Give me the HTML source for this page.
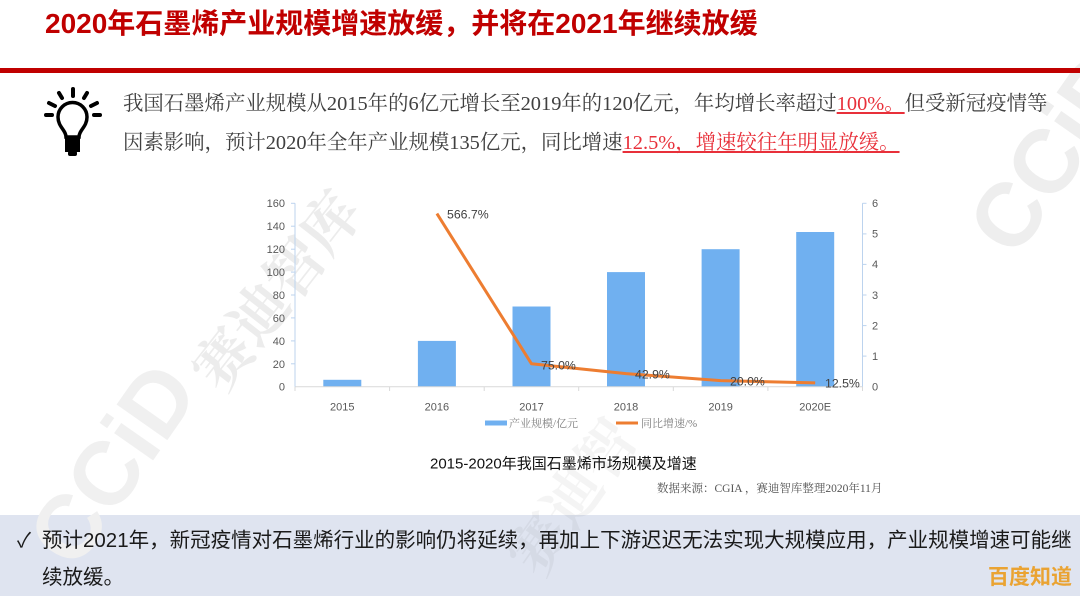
<!DOCTYPE html>
<html><head><meta charset="utf-8">
<style>
html,body{margin:0;padding:0;width:1080px;height:596px;overflow:hidden;background:#fff;}
#wrap{position:relative;width:1080px;height:596px;overflow:hidden;background:#fff;font-family:"Liberation Sans","Noto Sans CJK SC",sans-serif;}
.abs{position:absolute;white-space:nowrap;}
</style></head><body>
<div id="wrap">

<!-- bottom box background -->
<div class="abs" style="left:0;top:515px;width:1080px;height:81px;background:#dfe4f0;"></div>

<!-- watermarks -->
<svg class="abs" style="left:0;top:0" width="1080" height="596" viewBox="0 0 1080 596" font-weight="bold">
  <text x="0" y="0" font-size="58" fill="#ececec" font-family="'Liberation Serif','Noto Serif CJK SC',serif" transform="translate(222,395) rotate(-52)">赛迪智库</text>
  <text x="0" y="0" font-size="90" fill="#f0f0f0" font-family="'Liberation Sans',sans-serif" transform="translate(75,572) rotate(-55)">CCiD</text>
  <text x="0" y="0" font-size="90" fill="#eeeeee" font-family="'Liberation Sans',sans-serif" transform="translate(1015,260) rotate(-55)">CCiD</text>
  <text x="0" y="0" font-size="58" fill="rgba(0,0,0,0.045)" font-family="'Liberation Serif','Noto Serif CJK SC',serif" transform="translate(540,580) rotate(-55)">赛迪智</text>
</svg>

<!-- title -->
<div class="abs" style="left:45px;top:8px;font-size:28px;line-height:32px;font-weight:bold;color:#c00000;">2020年石墨烯产业规模增速放缓，并将在2021年继续放缓</div>
<div class="abs" style="left:0;top:68px;width:1080px;height:4.5px;background:#c00000;"></div>

<!-- bulb icon -->
<svg class="abs" style="left:0;top:0" width="130" height="170" viewBox="0 0 130 170">
  <g stroke="#000" stroke-width="4" stroke-linecap="round" fill="none">
    <line x1="73" y1="89" x2="73" y2="96"/>
    <line x1="59" y1="93" x2="62" y2="98"/>
    <line x1="87" y1="93" x2="84" y2="98"/>
    <line x1="49" y1="103" x2="55" y2="106"/>
    <line x1="97" y1="103" x2="91" y2="106"/>
    <line x1="46" y1="115" x2="52" y2="115"/>
    <line x1="94" y1="115" x2="100" y2="115"/>
  </g>
  <path d="M66 137 C66 130 58 127 58 117 A14.5 14.5 0 1 1 87 117 C87 127 79 130 79 137 Z" fill="none" stroke="#000" stroke-width="3.5"/>
  <rect x="65" y="137" width="15" height="15" fill="#000"/>
  <rect x="68" y="151" width="9" height="5" rx="2" fill="#000"/>
</svg>

<!-- intro text -->
<div class="abs" style="left:123px;top:85px;font-size:20.4px;line-height:39px;color:#404040;font-family:'Liberation Serif','Noto Serif CJK SC',serif;">
我国石墨烯产业规模从2015年的6亿元增长至2019年的120亿元，年均增长率超过<span style="color:#e8303a;text-decoration:underline;">100%。</span>但受新冠疫情等<br>
因素影响，预计2020年全年产业规模135亿元，同比增速<span style="color:#e8303a;text-decoration:underline;">12.5%，增速较往年明显放缓。</span>
</div>

<!-- chart -->
<svg class="abs" style="left:0;top:0" width="1080" height="500" viewBox="0 0 1080 500" font-family="'Liberation Sans','Noto Sans CJK SC',sans-serif">
  <g fill="#70b0f0">
    <rect x="323.3" y="379.8" width="38" height="6.9"/>
    <rect x="417.9" y="340.9" width="38" height="45.8"/>
    <rect x="512.5" y="306.5" width="38" height="80.2"/>
    <rect x="607.0" y="272.1" width="38" height="114.6"/>
    <rect x="701.6" y="249.2" width="38" height="137.5"/>
    <rect x="796.2" y="232.0" width="38" height="154.7"/>
  </g>
  <line x1="295" y1="386.7" x2="862.5" y2="386.7" stroke="#d9d9d9" stroke-width="1"/>
  <g stroke="#d9d9d9" stroke-width="1">
    <line x1="295" y1="386.7" x2="295" y2="391"/>
    <line x1="389.6" y1="386.7" x2="389.6" y2="391"/>
    <line x1="484.2" y1="386.7" x2="484.2" y2="391"/>
    <line x1="578.7" y1="386.7" x2="578.7" y2="391"/>
    <line x1="673.3" y1="386.7" x2="673.3" y2="391"/>
    <line x1="767.9" y1="386.7" x2="767.9" y2="391"/>
    <line x1="862.5" y1="386.7" x2="862.5" y2="391"/>
  </g>
  <line x1="295" y1="203.3" x2="295" y2="386.7" stroke="#bcd3ee" stroke-width="1"/>
  <line x1="862.5" y1="203.3" x2="862.5" y2="386.7" stroke="#bcd3ee" stroke-width="1"/>
  <g stroke="#bcd3ee" stroke-width="1">
    <line x1="291" y1="203.3" x2="295" y2="203.3"/><line x1="291" y1="226.2" x2="295" y2="226.2"/>
    <line x1="291" y1="249.2" x2="295" y2="249.2"/><line x1="291" y1="272.1" x2="295" y2="272.1"/>
    <line x1="291" y1="295" x2="295" y2="295"/><line x1="291" y1="317.9" x2="295" y2="317.9"/>
    <line x1="291" y1="340.9" x2="295" y2="340.9"/><line x1="291" y1="363.8" x2="295" y2="363.8"/>
    <line x1="862.5" y1="203.3" x2="866.5" y2="203.3"/><line x1="862.5" y1="233.9" x2="866.5" y2="233.9"/>
    <line x1="862.5" y1="264.4" x2="866.5" y2="264.4"/><line x1="862.5" y1="295" x2="866.5" y2="295"/>
    <line x1="862.5" y1="325.6" x2="866.5" y2="325.6"/><line x1="862.5" y1="356.1" x2="866.5" y2="356.1"/>
  </g>
  <g font-size="11" fill="#595959" text-anchor="end">
    <text x="285" y="207">160</text><text x="285" y="230">140</text>
    <text x="285" y="253">120</text><text x="285" y="276">100</text>
    <text x="285" y="299">80</text><text x="285" y="322">60</text>
    <text x="285" y="345">40</text><text x="285" y="368">20</text>
    <text x="285" y="390.5">0</text>
  </g>
  <g font-size="11" fill="#595959" text-anchor="start">
    <text x="872" y="207">6</text><text x="872" y="237.7">5</text>
    <text x="872" y="268.2">4</text><text x="872" y="298.8">3</text>
    <text x="872" y="329.4">2</text><text x="872" y="359.9">1</text>
    <text x="872" y="390.5">0</text>
  </g>
  <g font-size="11" fill="#595959" text-anchor="middle">
    <text x="342.3" y="410.5">2015</text><text x="436.9" y="410.5">2016</text>
    <text x="531.5" y="410.5">2017</text><text x="626" y="410.5">2018</text>
    <text x="720.6" y="410.5">2019</text><text x="815.2" y="410.5">2020E</text>
  </g>
  <polyline points="436.9,213.6 531.5,363.8 626,373.6 720.6,380.6 815.2,382.9" fill="none" stroke="#ed7d31" stroke-width="3" stroke-linejoin="round"/>
  <g font-size="12.3" fill="#404040">
    <text x="447" y="218.5">566.7%</text>
    <text x="541" y="369.5">75.0%</text>
    <text x="635" y="378.5">42.9%</text>
    <text x="730" y="385.5">20.0%</text>
    <text x="825" y="387.5">12.5%</text>
  </g>
  <rect x="485" y="420.5" width="22" height="5" fill="#70b0f0"/>
  <text x="509" y="427" font-size="11" fill="#7f7f7f" font-family="'Liberation Serif','Noto Serif CJK SC',serif">产业规模/亿元</text>
  <line x1="616" y1="423" x2="638" y2="423" stroke="#ed7d31" stroke-width="3"/>
  <text x="641" y="427" font-size="11" fill="#7f7f7f" font-family="'Liberation Serif','Noto Serif CJK SC',serif">同比增速/%</text>
  <text x="430" y="468.5" font-size="15" fill="#111">2015-2020年我国石墨烯市场规模及增速</text>
  <text x="657" y="492" font-size="11.5" fill="#555" font-family="'Liberation Serif','Noto Serif CJK SC',serif">数据来源：CGIA ，赛迪智库整理2020年11月</text>
</svg>

<!-- bottom text -->
<div class="abs" style="left:17px;top:527px;font-size:20.5px;line-height:28px;height:28px;color:#1a1a1a;">✓</div>
<div class="abs" style="left:42px;top:527px;font-size:20.5px;line-height:28px;height:28px;color:#1a1a1a;">预计2021年，新冠疫情对石墨烯行业的影响仍将延续，再加上下游迟迟无法实现大规模应用，产业规模增速可能继</div>
<div class="abs" style="left:42px;top:564px;font-size:20.5px;line-height:28px;height:28px;color:#1a1a1a;">续放缓。</div>
<div class="abs" style="left:988px;top:565px;font-size:21px;line-height:26px;height:26px;font-weight:bold;color:#eaa332;">百度知道</div>

</div>
</body></html>
